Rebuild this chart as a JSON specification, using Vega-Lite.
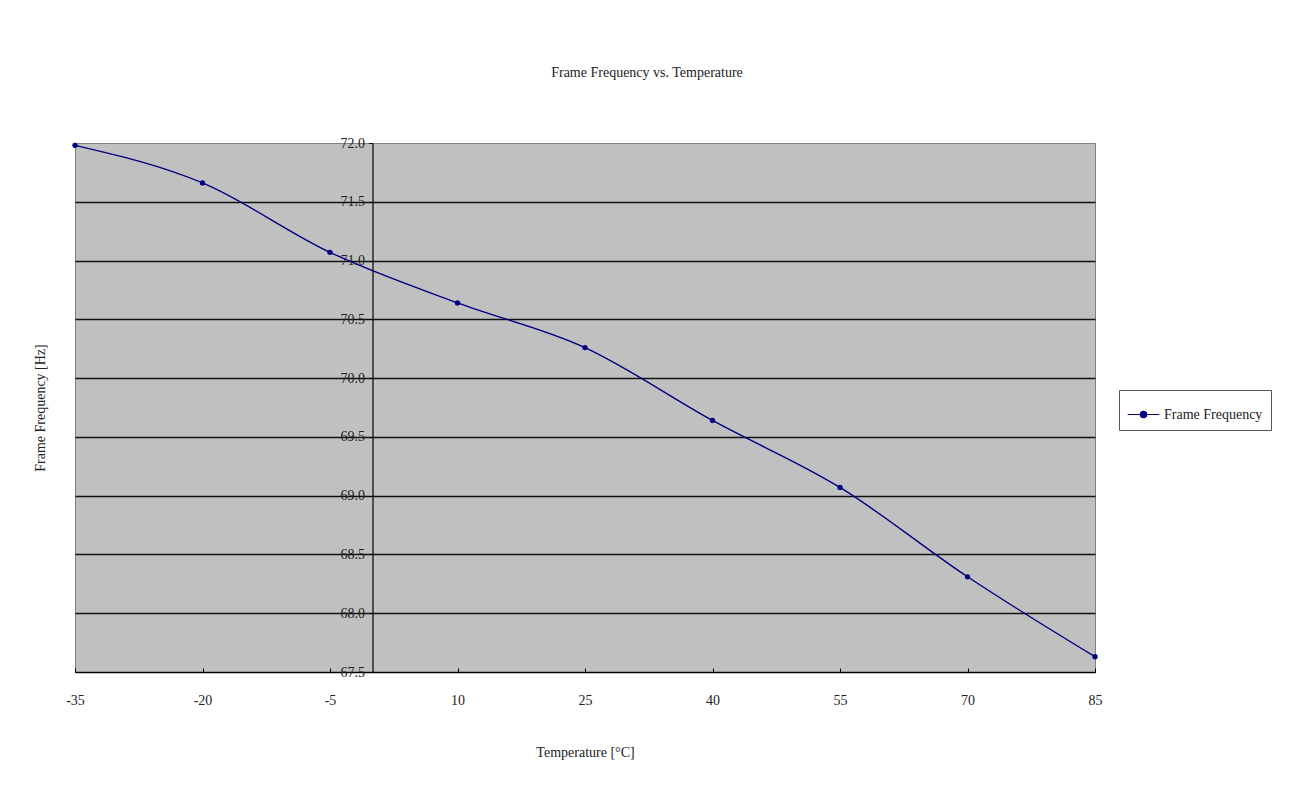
{
  "$schema": "https://vega.github.io/schema/vega-lite/v6.json",
  "autosize": {"type": "none"},
  "padding": {"left": 75, "top": 143, "right": 202, "bottom": 127},
  "width": 1020,
  "height": 529,
  "background": "white",
  "title": {
    "text": "Frame Frequency vs. Temperature",
    "anchor": "middle",
    "dx": 62,
    "offset": 56,
    "fontSize": 14,
    "fontWeight": "normal",
    "color": "#222",
    "font": "Liberation Serif"
  },
  "config": {
    "font": "Liberation Serif",
    "view": {"fill": "#C0C0C0", "stroke": "#808080", "strokeWidth": 1}
  },
  "data": {
    "values": [
      {"t": -35, "f": 71.98, "series": "Frame Frequency"},
      {"t": -20, "f": 71.66, "series": "Frame Frequency"},
      {"t": -5, "f": 71.07, "series": "Frame Frequency"},
      {"t": 10, "f": 70.64, "series": "Frame Frequency"},
      {"t": 25, "f": 70.26, "series": "Frame Frequency"},
      {"t": 40, "f": 69.64, "series": "Frame Frequency"},
      {"t": 55, "f": 69.07, "series": "Frame Frequency"},
      {"t": 70, "f": 68.31, "series": "Frame Frequency"},
      {"t": 85, "f": 67.63, "series": "Frame Frequency"}
    ]
  },
  "encoding": {
    "x": {
      "field": "t",
      "type": "quantitative",
      "scale": {"domain": [-35, 85], "nice": false, "zero": false},
      "axis": {
        "values": [-35, -20, -5, 10, 25, 40, 55, 70, 85],
        "labelExpr": "'' + datum.value",
        "labelFlush": false,
        "grid": false,
        "domainColor": "#000",
        "domainWidth": 1.2,
        "tickColor": "#000",
        "tickSize": -4,
        "labelPadding": 25,
        "labelFontSize": 14,
        "labelColor": "#222",
        "title": "Temperature [°C]",
        "titleFontSize": 14,
        "titleFontWeight": "normal",
        "titleColor": "#222",
        "titlePadding": 38
      }
    },
    "y": {
      "field": "f",
      "type": "quantitative",
      "scale": {"domain": [67.5, 72.0], "nice": false, "zero": false},
      "axis": {
        "values": [67.5, 68.0, 68.5, 69.0, 69.5, 70.0, 70.5, 71.0, 71.5, 72.0],
        "format": ".1f",
        "offset": -297.5,
        "labelFlush": false,
        "grid": true,
        "gridColor": {"condition": {"test": "datum.value >= 72", "value": "transparent"}, "value": "#111"},
        "gridWidth": 1.5,
        "domainColor": "#000",
        "domainWidth": 1.2,
        "tickColor": "#000",
        "tickSize": 4,
        "labelPadding": 4,
        "labelFontSize": 14,
        "labelColor": "#222",
        "title": "Frame Frequency [Hz]",
        "titleFontSize": 14,
        "titleFontWeight": "normal",
        "titleColor": "#222",
        "titleAngle": 270,
        "titleX": -325,
        "titleY": 264.5
      }
    },
    "color": {
      "field": "series",
      "type": "nominal",
      "scale": {"range": ["#000080"]},
      "legend": {
        "title": null,
        "orient": "none",
        "legendX": 1044,
        "legendY": 247,
        "strokeColor": "#555",
        "padding": 8,
        "symbolType": "M-1,0H1M-0.2,0A0.2,0.2 0 1,0 0.2,0A0.2,0.2 0 1,0 -0.2,0Z",
        "symbolSize": 1000,
        "symbolStrokeWidth": 1.2,
        "symbolFillColor": "#000080",
        "symbolStrokeColor": "#000080",
        "labelFontSize": 14,
        "labelColor": "#222",
        "labelFont": "Liberation Serif"
      }
    }
  },
  "layer": [
    {"mark": {"type": "line", "interpolate": "monotone", "strokeWidth": 1.4, "color": "#000080"}},
    {"mark": {"type": "point", "filled": true, "size": 28, "opacity": 1, "color": "#000060"}}
  ]
}
